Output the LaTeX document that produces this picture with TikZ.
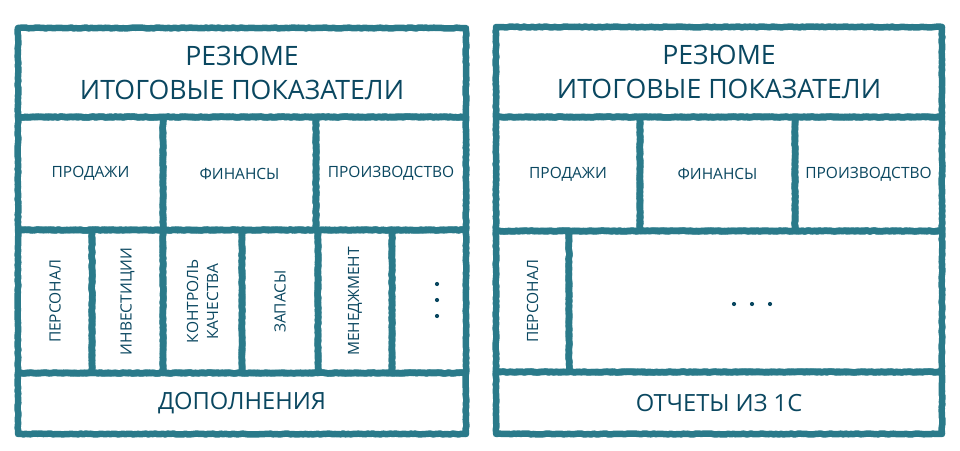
\documentclass[tikz,border=0pt]{standalone}
\usepackage{fontspec}
\setmainfont{Open Sans}
\usetikzlibrary{fit,decorations.pathmorphing}
\definecolor{gridcol}{HTML}{2A7A8A}
\definecolor{txtcol}{HTML}{0A4760}
\tikzset{
  cell/.style={draw=gridcol, line width=6.5pt, inner sep=0pt, outer sep=0pt,
    line join=round, decorate,
    decoration={random steps, segment length=2.5pt, amplitude=0.5pt}},
  txt/.style={text=txtcol, inner sep=0pt, align=center},
  big/.style={txt, font=\fontsize{26.7}{34}\selectfont},
  bottom/.style={txt, font=\fontsize{23.7}{30}\selectfont},
  small/.style={txt, font=\fontsize{15.5}{20}\selectfont},
  dotmark/.style={circle, fill=txtcol, inner sep=0pt, minimum size=4.2pt},
}
\begin{document}
\begin{tikzpicture}[x=1pt,y=-1pt]
\useasboundingbox[fill=white] (0,0) rectangle (960,450);
% ---------- left panel ----------
\node[cell, fit={(18,28)(466,117)}] (Lt) {};
\node[cell, fit={(18,117)(163,230)}] (Lr1) {};
\node[cell, fit={(163,117)(316,230)}] (Lr2) {};
\node[cell, fit={(316,117)(466,230)}] (Lr3) {};
\node[cell, fit={(18,230)(92,373)}] (Lc1) {};
\node[cell, fit={(92,230)(163,373)}] (Lc2) {};
\node[cell, fit={(163,230)(242,373)}] (Lc3) {};
\node[cell, fit={(242,230)(318,373)}] (Lc4) {};
\node[cell, fit={(318,230)(392,373)}] (Lc5) {};
\node[cell, fit={(392,230)(466,373)}] (Lc6) {};
\node[cell, fit={(18,373)(466,434)}] (Lb) {};
\node[big] (LtT) at (Lt.center) {РЕЗЮМЕ\\ИТОГОВЫЕ ПОКАЗАТЕЛИ};
\node[small] (Lr1T) at (Lr1.center) {ПРОДАЖИ};
\node[small] (Lr2T) at (Lr2.center) {ФИНАНСЫ};
\node[small] (Lr3T) at (Lr3.center) {ПРОИЗВОДСТВО};
\node[small, rotate=90] (Lc1T) at (Lc1.center) {ПЕРСОНАЛ};
\node[small, rotate=90] (Lc2T) at (Lc2.center) {ИНВЕСТИЦИИ};
\node[small, rotate=90] (Lc3T) at (Lc3.center) {КОНТРОЛЬ\\КАЧЕСТВА};
\node[small, rotate=90] (Lc4T) at (Lc4.center) {ЗАПАСЫ};
\node[small, rotate=90] (Lc5T) at (Lc5.center) {МЕНЕДЖМЕНТ};
\node[dotmark] (Ld1) at (437,284) {};
\node[dotmark] (Ld2) at (437,300) {};
\node[dotmark] (Ld3) at (437,316) {};
\node[bottom] (LbT) at (Lb.center) {ДОПОЛНЕНИЯ};
% ---------- right panel ----------
\node[cell, fit={(496,27)(942,117)}] (Rt) {};
\node[cell, fit={(496,117)(640,231)}] (Rr1) {};
\node[cell, fit={(640,117)(795,231)}] (Rr2) {};
\node[cell, fit={(795,117)(942,231)}] (Rr3) {};
\node[cell, fit={(496,231)(569,372)}] (Rc1) {};
\node[cell, fit={(569,231)(942,372)}] (Rc2) {};
\node[cell, fit={(496,372)(942,434)}] (Rb) {};
\node[big] (RtT) at (Rt.center) {РЕЗЮМЕ\\ИТОГОВЫЕ ПОКАЗАТЕЛИ};
\node[small] (Rr1T) at (Rr1.center) {ПРОДАЖИ};
\node[small] (Rr2T) at (Rr2.center) {ФИНАНСЫ};
\node[small] (Rr3T) at (Rr3.center) {ПРОИЗВОДСТВО};
\node[small, rotate=90] (Rc1T) at (Rc1.center) {ПЕРСОНАЛ};
\node[dotmark] (Rd1) at (734,304) {};
\node[dotmark] (Rd2) at (752,304) {};
\node[dotmark] (Rd3) at (770,304) {};
\node[bottom] (RbT) at (Rb.center) {ОТЧЕТЫ ИЗ 1С};
\end{tikzpicture}
\end{document}
